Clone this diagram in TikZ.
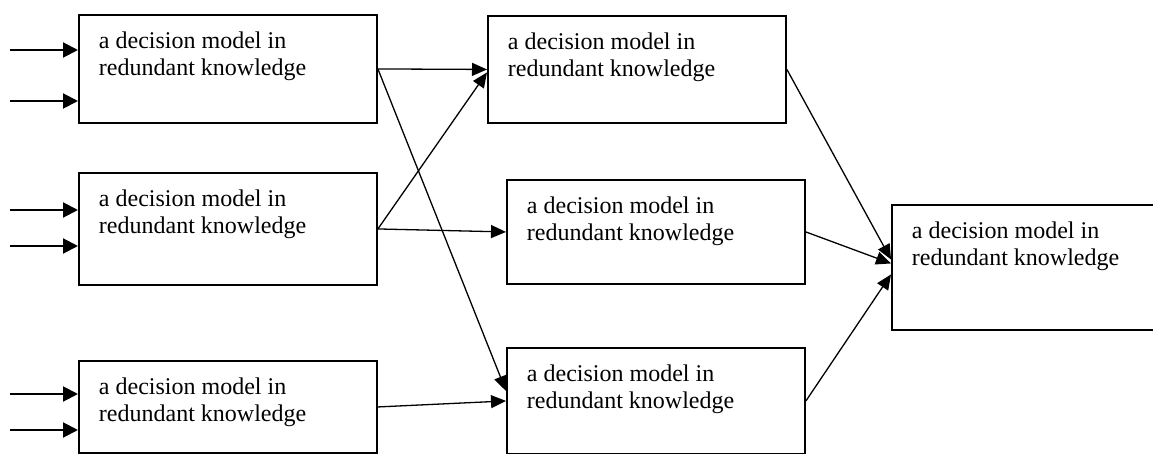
\documentclass[tikz,border=0pt]{standalone}
\usepackage{fontspec}
\setmainfont{Liberation Serif}
\usetikzlibrary{arrows.meta}
\newcommand{\boxtext}[2]{\parbox[c][#1][t]{258pt}{#2}}

\begin{document}
\begin{tikzpicture}[x=1pt,y=-1pt,
  dm/.style={draw,line width=1.9pt,anchor=north west,inner xsep=20pt,inner ysep=16.5pt,
    font=\fontsize{24}{27.6}\selectfont},
  link/.style={line width=1.3pt,-{Triangle[length=15pt,width=13pt]}},
  feed/.style={line width=2pt,-{Triangle[length=15pt,width=15pt]}}]
  \clip (0,0) rectangle (1153,454);

  \node[dm] (L1) at (78,14) {\boxtext{75pt}{a decision model in\\redundant knowledge}};
  \node[dm] (L2) at (78,172) {\boxtext{79pt}{a decision model in\\redundant knowledge}};
  \node[dm] (L3) at (78,360) {\boxtext{59pt}{a decision model in\\redundant knowledge}};

  \node[dm] (M1) at (487,15) {\boxtext{74pt}{a decision model in\\redundant knowledge}};
  \node[dm] (M2) at (506,179) {\boxtext{71pt}{a decision model in\\redundant knowledge}};
  \node[dm] (M3) at (506,347) {\boxtext{73pt}{a decision model in\\redundant knowledge}};

  \node[dm] (R) at (891,204) {\boxtext{92pt}{a decision model in\\redundant knowledge}};

  % inputs
  \foreach \n/\b/\y in {a/L1/50, b/L1/101, c/L2/210, d/L2/246, e/L3/394, f/L3/430} {
    \coordinate (in\n) at (10,\y);
    \draw[feed] (in\n) -- (in\n -| \b.west);
  }

  \draw[link] (L1.east) -- (M1.west);
  \draw[link] (L1.east) -- ([yshift=10pt]M3.west);
  \draw[link] (L2.east) -- ([yshift=-3pt]M1.west);
  \draw[link] (L2.east) -- (M2.west);
  \draw[link] (L3.east) -- (M3.west);

  \draw[link] (M1.east) -- ([yshift=8pt]R.west);
  \draw[link] (M2.east) -- ([yshift=4pt]R.west);
  \draw[link] (M3.east) -- ([yshift=-7pt]R.west);
\end{tikzpicture}
\end{document}
